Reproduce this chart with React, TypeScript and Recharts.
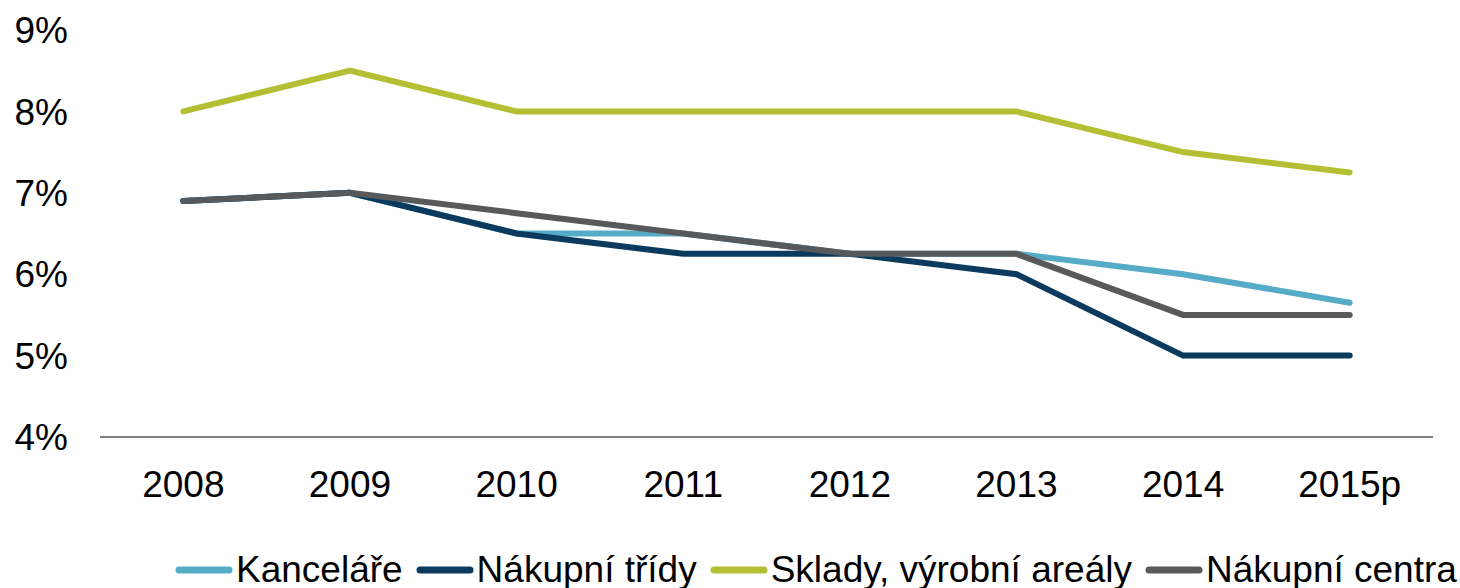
import React from "react";
import { LineChart, Line, XAxis, YAxis, Legend } from "recharts";

const years = ["2008", "2009", "2010", "2011", "2012", "2013", "2014", "2015p"];
const kancelare = [6.9, 7.0, 6.5, 6.5, 6.25, 6.25, 6.0, 5.65];
const nakupniTridy = [6.9, 7.0, 6.5, 6.25, 6.25, 6.0, 5.0, 5.0];
const sklady = [8.0, 8.5, 8.0, 8.0, 8.0, 8.0, 7.5, 7.25];
const nakupniCentra = [6.9, 7.0, 6.75, 6.5, 6.25, 6.25, 5.5, 5.5];
const yTicks = [4, 5, 6, 7, 8, 9];

const series = [
  { key: "k", name: "Kanceláře", color: "#56ABC8", values: kancelare },
  { key: "t", name: "Nákupní třídy", color: "#0B3A5F", values: nakupniTridy },
  { key: "s", name: "Sklady, výrobní areály", color: "#B5BF33", values: sklady },
  { key: "c", name: "Nákupní centra", color: "#58595B", values: nakupniCentra },
];

const data = years.map((y, i) => {
  const row: Record<string, string | number> = { year: y };
  series.forEach((s) => (row[s.key] = s.values[i]));
  return row;
});

const FONT = "'Liberation Sans', Arial, sans-serif";

const LegendContent = () => (
  <div
    style={{
      display: "flex",
      alignItems: "center",
      paddingLeft: 175,
      whiteSpace: "nowrap",
      fontFamily: FONT,
      fontSize: 37,
      color: "#000",
      height: 36,
    }}
  >
    {series.map((s) => (
      <div key={s.key} style={{ display: "flex", alignItems: "center", marginRight: 13 }}>
        <svg width={58} height={8} style={{ marginRight: 3 }}>
          <line x1={4} y1={4} x2={54} y2={4} stroke={s.color} strokeWidth={7} strokeLinecap="round" />
        </svg>
        <span>{s.name}</span>
      </div>
    ))}
  </div>
);

export default function App() {
  return (
    <div style={{ position: "absolute", left: 0, top: 0, width: 1460, height: 588, background: "#fff" }}>
      <LineChart
        width={1460}
        height={588}
        data={data}
        margin={{ top: 30, right: 27, left: 0, bottom: 0 }}
      >
        <XAxis
          dataKey="year"
          scale="band"
          height={115}
          tickLine={false}
          tickSize={0}
          tickMargin={34}
          axisLine={{ stroke: "#7F7F7F", strokeWidth: 2 }}
          tick={{ fill: "#000", fontSize: 37, fontFamily: FONT }}
        />
        <YAxis
          domain={[4, 9]}
          ticks={yTicks}
          width={100}
          axisLine={false}
          tickLine={false}
          tickSize={0}
          tickMargin={32}
          tickFormatter={(v: number) => `${v}%`}
          tick={{ fill: "#000", fontSize: 37, fontFamily: FONT }}
        />
        {series.map((s) => (
          <Line
            key={s.key}
            dataKey={s.key}
            name={s.name}
            stroke={s.color}
            strokeWidth={6}
            strokeLinecap="round"
            dot={false}
            activeDot={false}
            isAnimationActive={false}
          />
        ))}
        <Legend
          verticalAlign="bottom"
          align="left"
          content={LegendContent}
          wrapperStyle={{ left: 0, bottom: 0 }}
        />
      </LineChart>
    </div>
  );
}
